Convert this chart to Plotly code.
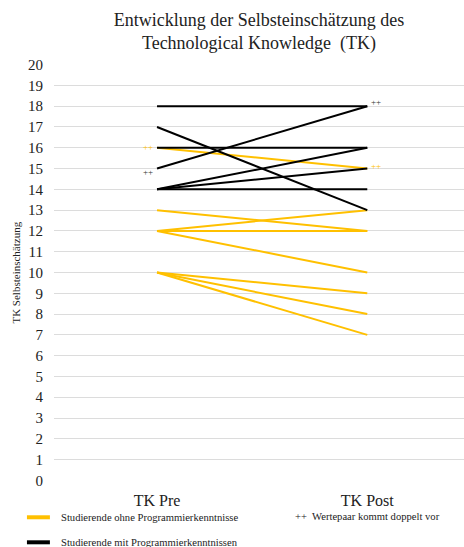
import plotly.graph_objects as go

categories = ["TK Pre", "TK Post"]
# Studierende ohne Programmierkenntnisse (yellow)
ohne_pre = [16, 13, 12, 12, 12, 10, 10, 10]
ohne_post = [15, 12, 13, 12, 10, 9, 8, 7]
# Studierende mit Programmierkenntnissen (black)
mit_pre = [18, 17, 16, 15, 14, 14, 14]
mit_post = [18, 13, 16, 18, 16, 15, 14]
y_ticks = list(range(0, 21))

YELLOW = "#FFC000"
BLACK = "#000000"
FONT = "Liberation Serif"

fig = go.Figure()
for a, b in zip(ohne_pre, ohne_post):
    fig.add_trace(go.Scatter(x=[0, 1], y=[a, b], mode="lines",
                             line=dict(color=YELLOW, width=2), showlegend=False, hoverinfo="skip"))
for a, b in zip(mit_pre, mit_post):
    fig.add_trace(go.Scatter(x=[0, 1], y=[a, b], mode="lines",
                             line=dict(color=BLACK, width=2), showlegend=False, hoverinfo="skip"))

# duplicate markers
dups = [
    (0, 16, YELLOW, "right", 1, -2),
    (0, 15, "#333333", "right", -3, -2),
    (1, 18, "#333333", "left", 4, 2),
    (1, 15, YELLOW, "left", 3, 2),
]
for x, y, c, xa, dy, dx in dups:
    fig.add_annotation(x=x, y=y, text="++", showarrow=False, xanchor=xa, yanchor="middle",
                       xshift=dx, yshift=dy, font=dict(family=FONT, size=9, color=c))

# y axis title
fig.add_annotation(xref="paper", yref="paper", x=-0.095, y=0.5, text="TK Selbsteinschätzung",
                   textangle=-90, showarrow=False, xanchor="center", yanchor="middle",
                   font=dict(family=FONT, size=11, color="#222"))

# legend
fig.add_shape(type="line", xref="paper", yref="paper", x0=-0.066, x1=-0.01, y0=-0.087, y1=-0.087,
              line=dict(color=YELLOW, width=4))
fig.add_shape(type="line", xref="paper", yref="paper", x0=-0.066, x1=-0.01, y0=-0.147, y1=-0.147,
              line=dict(color=BLACK, width=4))
fig.add_annotation(xref="paper", yref="paper", x=0.012, y=-0.087, text="Studierende ohne Programmierkenntnisse",
                   showarrow=False, xanchor="left", yanchor="middle", font=dict(family=FONT, size=10.6, color="#222"))
fig.add_annotation(xref="paper", yref="paper", x=0.012, y=-0.147, text="Studierende mit Programmierkenntnissen",
                   showarrow=False, xanchor="left", yanchor="middle", font=dict(family=FONT, size=10.6, color="#222"))
fig.add_annotation(xref="paper", yref="paper", x=0.582, y=-0.085, text="++  Wertepaar kommt doppelt vor",
                   showarrow=False, xanchor="left", yanchor="middle", font=dict(family=FONT, size=10.6, color="#222"))

fig.update_layout(
    width=464, height=547,
    margin=dict(l=54, r=0, t=64, b=66, autoexpand=False),
    paper_bgcolor="white", plot_bgcolor="white",
    title=dict(text="Entwicklung der Selbsteinschätzung des<br>Technological Knowledge  (TK)",
               x=0.5, xref="paper", xanchor="center", y=1 - 26 / 547, yanchor="middle",
               font=dict(family=FONT, size=18, color="#222")),
    xaxis=dict(range=[-0.49, 1.46], tickvals=[0, 1], ticktext=categories, showgrid=False,
               zeroline=False, showline=False, ticks="", ticklabelstandoff=8, automargin=False,
               tickfont=dict(family=FONT, size=16, color="#222")),
    yaxis=dict(range=[-0.03, 20.03], tickvals=y_ticks, showgrid=True, gridcolor="#dcdcdc", gridwidth=1,
               zeroline=False, showline=False, ticks="", ticklabelstandoff=10, automargin=False,
               tickfont=dict(family=FONT, size=15, color="#222")),
    font=dict(family=FONT),
)

fig.write_html("out.html", config={"displayModeBar": False},
               post_script="document.body.style.margin='0';")
